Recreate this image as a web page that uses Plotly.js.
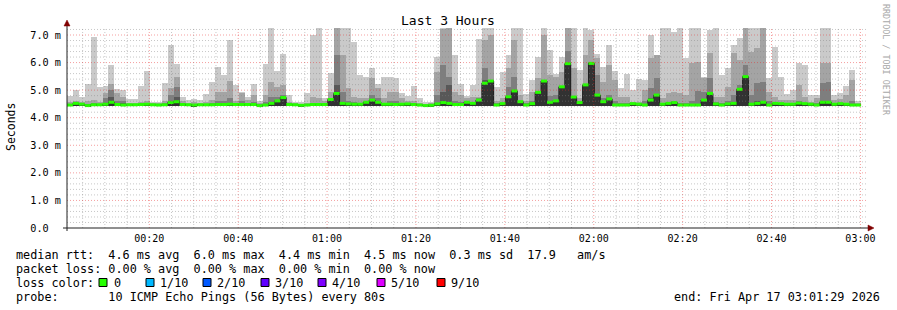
<!DOCTYPE html>
<html><head><meta charset="utf-8">
<script src="https://cdn.plot.ly/plotly-3.0.1.min.js"></script>
<style>html,body{margin:0;padding:0;background:#fff}</style>
</head><body><div id="chart" style="width:897px;height:310px"></div>
<script>
// ---------------- data ----------------
const startMs = Date.UTC(2026, 3, 17, 0, 1, 29);   // first step start (graph start)
const endMs   = Date.UTC(2026, 3, 17, 3, 1, 29);   // graph end
const stepSec = 80;                                // probe interval

// lowest ping per step (ms)
const lo = [4.41,4.42,4.42,4.40,4.41,4.42,4.42,4.42,4.41,4.41,4.42,4.41,4.42,4.42,4.42,4.41,4.41,4.42,4.42,4.42,4.41,4.40,4.41,4.42,4.41,4.42,4.42,
 4.42,4.41,4.42,4.42,4.41,4.39,4.41,4.42,4.43,4.42,4.42,4.41,4.40,4.41,4.42,4.42,4.42,4.42,4.43,4.43,4.42,4.42,4.42,4.42,4.43,4.42,4.42,
 4.42,4.41,4.42,4.42,4.42,4.41,4.39,4.40,4.42,4.42,4.42,4.42,4.42,4.43,4.42,4.42,4.43,4.43,4.41,4.42,4.42,4.43,4.42,4.41,4.42,4.43,4.43,
 4.42,4.42,4.43,4.43,4.42,4.42,4.43,4.43,4.42,4.42,4.42,4.41,4.41,4.41,4.42,4.42,4.41,4.42,4.42,4.42,4.42,4.42,4.41,4.41,4.41,4.41,4.42,
 4.42,4.42,4.41,4.42,4.42,4.43,4.43,4.42,4.42,4.42,4.41,4.42,4.42,4.42,4.42,4.42,4.42,4.42,4.41,4.42,4.42,4.42,4.42,4.42,4.41,4.41];
// highest ping per step (ms)
const hi = [4.80,5.01,4.75,5.21,6.94,5.13,5.16,5.91,5.04,5.01,4.68,4.68,5.16,5.71,4.56,4.56,5.25,6.64,5.94,4.76,4.64,4.68,4.64,4.86,5.31,5.85,5.55,
 6.82,5.19,4.95,4.76,5.21,4.61,5.94,7.24,5.70,6.30,4.82,4.58,4.56,4.88,7.00,7.24,4.73,5.61,7.24,7.24,7.24,6.76,5.55,5.49,5.79,5.21,5.49,
 5.49,5.45,4.88,4.80,5.15,4.73,4.56,4.58,6.21,7.27,7.24,6.28,5.21,4.80,5.19,6.86,7.24,7.24,5.13,5.67,6.28,7.24,7.24,4.85,5.37,6.21,7.24,
 6.46,5.57,6.21,7.24,7.24,5.73,7.24,7.18,6.30,5.85,6.64,5.70,5.07,5.57,5.01,5.40,5.37,7.00,6.28,7.24,7.24,7.12,7.24,6.15,7.24,7.24,5.49,
 7.18,7.24,5.55,5.79,6.64,6.88,7.24,7.24,7.24,7.24,5.45,6.58,5.49,4.85,5.01,5.97,5.91,4.82,4.82,7.24,7.24,4.82,4.88,5.16,5.73,4.61];
// 9th ping (ms)
const q9 = [4.58,4.62,4.58,4.60,4.65,4.58,4.88,5.21,4.88,4.76,4.55,4.55,4.58,4.60,4.52,4.52,4.62,5.07,5.49,4.62,4.55,4.58,4.55,4.58,4.65,4.95,4.95,
 5.33,4.62,4.88,4.64,4.82,4.52,4.82,5.28,5.13,5.19,4.58,4.52,4.50,4.55,4.76,4.73,4.62,4.95,7.24,6.28,5.07,4.76,4.73,4.70,5.43,5.07,4.70,
 4.95,4.95,4.70,4.60,4.62,4.55,4.50,4.52,5.67,7.20,7.24,4.95,4.82,4.73,4.76,4.76,6.82,7.00,4.62,4.70,5.82,6.82,4.82,4.62,4.95,5.43,7.00,
 5.55,5.49,5.67,7.24,5.79,4.70,6.28,6.82,6.15,5.31,5.91,5.37,4.76,4.76,4.58,4.58,5.01,6.15,6.28,4.70,4.88,4.95,4.88,4.82,5.97,6.01,5.43,
 6.34,4.76,4.76,5.13,6.34,6.09,7.24,6.40,6.52,7.24,4.95,4.76,4.64,4.64,4.64,5.19,4.76,4.58,4.70,5.97,5.97,4.64,4.68,4.82,5.37,4.52];
// 8th ping (ms)
const q8 = [4.50,4.52,4.50,4.50,4.52,4.50,4.70,5.01,4.62,4.62,4.50,4.50,4.50,4.52,4.49,4.49,4.52,4.82,5.13,4.52,4.50,4.50,4.50,4.50,4.52,4.62,4.62,
 4.70,4.52,4.62,4.52,4.58,4.49,4.58,4.75,4.76,4.82,4.50,4.49,4.48,4.49,4.55,4.55,4.52,4.62,6.28,4.95,4.62,4.58,4.55,4.55,4.82,4.70,4.55,
 4.62,4.60,4.55,4.52,4.52,4.49,4.47,4.48,4.82,5.91,5.49,4.62,4.58,4.58,4.58,4.70,5.79,5.37,4.52,4.55,5.13,5.49,4.62,4.52,4.62,4.95,5.37,
 4.80,4.82,5.13,6.42,4.80,4.58,5.21,6.01,5.55,4.70,4.82,4.62,4.55,4.55,4.52,4.52,4.62,5.07,5.43,4.55,4.58,4.60,4.55,4.55,4.62,4.97,4.95,
 5.43,4.58,4.55,4.62,4.82,5.19,5.91,4.82,5.25,5.31,4.62,4.55,4.52,4.52,4.52,4.62,4.55,4.52,4.55,5.25,5.31,4.52,4.52,4.55,4.62,4.48];
// 7th ping (ms)
const q7 = [4.47,4.50,4.49,4.48,4.48,4.48,4.55,4.76,4.52,4.52,4.48,4.48,4.48,4.50,4.48,4.48,4.49,4.62,4.75,4.49,4.48,4.48,4.48,4.48,4.49,4.52,4.52,
 4.55,4.49,4.50,4.49,4.50,4.47,4.50,4.55,4.60,4.72,4.48,4.48,4.46,4.47,4.50,4.50,4.49,4.58,5.19,4.55,4.50,4.50,4.50,4.52,4.62,4.58,4.49,
 4.50,4.50,4.50,4.50,4.49,4.47,4.45,4.46,4.52,4.95,5.19,4.50,4.50,4.55,4.52,4.62,5.37,5.33,4.48,4.50,4.80,4.97,4.58,4.48,4.52,4.92,5.33,
 4.60,4.62,5.12,5.97,4.75,4.55,5.19,5.97,4.85,4.58,4.68,4.49,4.48,4.48,4.50,4.49,4.50,4.70,4.83,4.49,4.52,4.55,4.47,4.47,4.48,4.50,4.64,
 4.88,4.50,4.47,4.50,4.52,5.03,5.49,4.52,4.62,4.62,4.50,4.52,4.51,4.49,4.49,4.53,4.51,4.49,4.47,4.56,4.56,4.49,4.51,4.49,4.46,4.46];
// median rtt (ms)
const med = [4.46,4.52,4.49,4.44,4.47,4.47,4.49,4.56,4.48,4.46,4.47,4.47,4.48,4.49,4.47,4.46,4.47,4.55,4.58,4.48,4.47,4.46,4.47,4.47,4.47,4.48,4.48,
 4.49,4.48,4.48,4.48,4.48,4.44,4.46,4.52,4.61,4.73,4.48,4.47,4.45,4.46,4.48,4.48,4.48,4.66,4.88,4.52,4.50,4.49,4.49,4.56,4.64,4.56,4.49,
 4.49,4.48,4.49,4.50,4.48,4.46,4.44,4.45,4.50,4.55,4.52,4.48,4.48,4.56,4.52,4.64,5.25,5.33,4.46,4.51,4.76,4.97,4.58,4.46,4.51,4.92,5.33,
 4.56,4.61,5.12,5.96,4.75,4.55,5.19,5.97,4.82,4.58,4.68,4.46,4.46,4.46,4.51,4.49,4.46,4.64,4.82,4.49,4.52,4.55,4.46,4.46,4.46,4.46,4.64,
 4.88,4.50,4.46,4.50,4.52,5.03,5.49,4.49,4.52,4.56,4.46,4.52,4.51,4.49,4.49,4.53,4.51,4.49,4.46,4.56,4.56,4.49,4.51,4.49,4.46,4.46];

const yTickVals = [0, 1, 2, 3, 4, 5, 6, 7];
const yTickText = ['0.0  ', '1.0 m', '2.0 m', '3.0 m', '4.0 m', '5.0 m', '6.0 m', '7.0 m'];
const lossLabels = ['0', '1/10', '2/10', '3/10', '4/10', '5/10', '9/10'];
const lossColors = ['#26ff00', '#00b8ff', '#0059ff', '#5e00ff', '#7e00ff', '#dd00ff', '#ff0000'];
const statRtt  = 'median rtt:  4.6 ms avg  6.0 ms max  4.4 ms min  4.5 ms now  0.3 ms sd  17.9   am/s';
const statLoss = 'packet loss: 0.00 % avg  0.00 % max  0.00 % min  0.00 % now';
const lossTitle = 'loss color:';
const probeText = 'probe:       10 ICMP Echo Pings (56 Bytes) every 80s';
const endText = 'end: Fri Apr 17 03:01:29 2026';
const titleText = 'Last 3 Hours';
const yTitle = 'Seconds';
const watermark = 'RRDTOOL / TOBI OETIKER';

// ---------------- drawing ----------------
const FONT = 'DejaVu Sans Mono';
const W = 897, H = 310, L = 67, R = 30, T = 27, B = 82;
const PW = W - L - R, PH = H - T - B;
const X = px => (px - L) / PW;
const Y = py => (H - B - py) / PH;
const nb = s => s.replace(/ /g, '\u00a0');

const stepMs = stepSec * 1000;
const n = med.length;
const xc = [], xs = [];
for (let i = 0; i < n; i++) { xc.push(startMs + (i + 0.5) * stepMs); xs.push(startMs + i * stepMs); }

function band(top, color) {
  return {type: 'bar', x: xc, base: lo, y: top.map((v, i) => v - lo[i]), width: stepMs,
    marker: {color: color, line: {width: 0}}, hoverinfo: 'skip', showlegend: false};
}
const traces = [
  band(hi, '#cacaca'),
  band(q9, '#a4a4a4'),
  band(q8, '#7e7e7e'),
  band(q7, '#585858'),
  band(med, '#323232')
];
// thin dark median step line
traces.push({type: 'scatter', mode: 'lines', x: xs.concat([startMs + n * stepMs]), y: med.concat([med[n - 1]]),
  line: {shape: 'hv', color: '#202020', width: 1}, hoverinfo: 'skip', showlegend: false});
// green median segments (loss 0)
const gx = [], gy = [];
for (let i = 0; i < n; i++) { gx.push(xs[i], xs[i] + stepMs, null); gy.push(med[i], med[i], null); }
traces.push({type: 'scatter', mode: 'lines', x: gx, y: gy, connectgaps: false,
  line: {color: lossColors[0], width: 3}, hoverinfo: 'skip', showlegend: false});

const shapes = [];
// grid (rrdtool draws it above the graph)
for (let m = 5; m <= 180; m += 5) {
  const t = Date.UTC(2026, 3, 17, 0, m, 0);
  if (t >= endMs) break;
  const major = m % 20 === 0;
  shapes.push({type: 'line', layer: 'above', xref: 'x', yref: 'paper', x0: t, x1: t, y0: 0, y1: 1,
    line: {color: major ? 'rgba(230,40,40,0.45)' : 'rgba(130,130,130,0.45)', width: 1, dash: '1px,2px'}});
}
for (let k = 1; k <= 36; k++) {
  const v = k * 0.2;
  const major = k % 5 === 0;
  shapes.push({type: 'line', layer: 'above', xref: 'paper', yref: 'y', x0: 0, x1: 1, y0: v, y1: v,
    line: {color: major ? 'rgba(230,40,40,0.45)' : 'rgba(130,130,130,0.45)', width: 1, dash: '1px,2px'}});
}
// axes lines and arrows
shapes.push({type: 'line', layer: 'above', xref: 'paper', yref: 'paper', x0: X(67), x1: X(67), y0: Y(231), y1: Y(25),
  line: {color: '#202020', width: 1}});
shapes.push({type: 'line', layer: 'above', xref: 'paper', yref: 'paper', x0: X(63), x1: X(869), y0: Y(228), y1: Y(228),
  line: {color: '#202020', width: 1}});
shapes.push({type: 'path', layer: 'above', xref: 'paper', yref: 'paper',
  path: `M ${X(64)},${Y(26)} L ${X(70)},${Y(26)} L ${X(67)},${Y(20)} Z`, fillcolor: '#800000', line: {color: '#800000', width: 0.5}});
shapes.push({type: 'path', layer: 'above', xref: 'paper', yref: 'paper',
  path: `M ${X(868)},${Y(225)} L ${X(868)},${Y(231)} L ${X(874)},${Y(228)} Z`, fillcolor: '#800000', line: {color: '#800000', width: 0.5}});
// loss color boxes
const boxX = [99, 146, 203, 261, 318, 377, 437];
const labX = [113, 159, 216, 274, 331, 390, 450];
lossColors.forEach((c, i) => {
  shapes.push({type: 'rect', xref: 'paper', yref: 'paper', x0: X(boxX[i]), x1: X(boxX[i] + 8), y0: Y(286.5), y1: Y(278.5),
    fillcolor: c, line: {color: '#000', width: 1}});
});

function ann(text, px, py, size, extra) {
  return Object.assign({xref: 'paper', yref: 'paper', x: X(px), y: Y(py), xanchor: 'left', yanchor: 'middle',
    text: nb(text), showarrow: false, borderpad: 0, font: {family: FONT, size: size, color: '#000'}}, extra || {});
}
const LF = 11.8;
const annotations = [
  ann(titleText, 448, 20, 13, {xanchor: 'center'}),
  ann(yTitle, 11, 127, 11.5, {xanchor: 'center', textangle: -90}),
  ann(watermark, 886, 60, 8.4, {xanchor: 'center', textangle: 90, font: {family: FONT, size: 8.4, color: '#a8a8a8'}}),
  ann(statRtt, 15, 254.5, LF),
  ann(statLoss, 15, 268.5, LF),
  ann(lossTitle, 15, 282.5, LF),
  ann(probeText, 15, 297, LF),
  ann(endText, 881, 297, LF, {xanchor: 'right'})
];
lossLabels.forEach((t, i) => annotations.push(ann(t, labX[i], 282.5, LF)));

const layout = {
  width: W, height: H,
  margin: {l: L, r: R, t: T, b: B, pad: 0},
  paper_bgcolor: '#ffffff', plot_bgcolor: '#ffffff',
  barmode: 'overlay', bargap: 0,
  showlegend: false,
  xaxis: {type: 'date', range: [startMs, endMs], tick0: Date.UTC(2026, 3, 17, 0, 0, 0), dtick: 20 * 60000,
    tickformat: '%H:%M', showgrid: false, zeroline: false, showline: false, ticks: '',
    ticklabelstandoff: 3, tickfont: {family: FONT, size: 10, color: '#000'}, fixedrange: true},
  yaxis: {range: [0, 7.29], tickmode: 'array', tickvals: yTickVals, ticktext: yTickText.map(nb),
    showgrid: false, zeroline: false, showline: false, ticks: '', ticklabelstandoff: 5,
    tickfont: {family: FONT, size: 10.2, color: '#000'}, fixedrange: true},
  shapes: shapes,
  annotations: annotations
};
Plotly.newPlot('chart', traces, layout, {staticPlot: true, displayModeBar: false});
</script>
</body></html>
